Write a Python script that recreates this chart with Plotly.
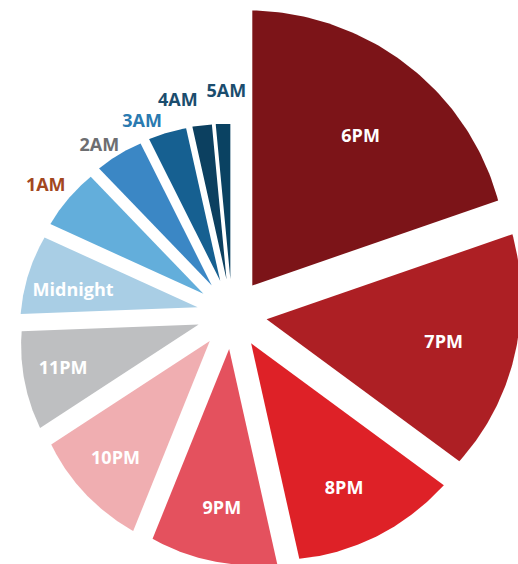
import numpy as np
import plotly.graph_objects as go

# ---------------- data ----------------
hours = ["6PM", "7PM", "8PM", "9PM", "10PM", "11PM", "Midnight",
         "1AM", "2AM", "3AM", "4AM", "5AM"]
shares = [19.7, 15.4, 11.4, 9.6, 9.7, 8.6, 7.4, 6.0, 4.8, 3.9, 2.0, 1.5]

# ---------------- style ----------------
slice_colors = ["#7C1418", "#AD1F24", "#DE2127", "#E4515E", "#F0AEB1", "#BEBFC1",
                "#A9CEE5", "#63AEDB", "#3B87C5", "#166091", "#0C4060", "#0A4262"]
label_inside = [True, True, True, True, True, True, True,
                False, False, False, False, False]
label_colors = ["white"] * 7 + ["#A3471F", "#6D6E71", "#2A7AB0", "#1B4D6E", "#1B4D6E"]
label_nudge_deg = [0, -2, 0, -2, 0, 1, -2, 0, -3, -6, -6, 1.5]
label_dr_px = [2, 3, 5, 0, 0, 0, -10, 0, -7, -5, 4, 7]
LABEL_DY = -4              # small vertical centring correction for text

W, H = 518, 564
CX, CY = 232, 314          # pie centre in window pixels
PULL = 35                  # explode distance (px)
R_START, R_END = 275, 155  # spiral outer radius at start / end of the sweep


def radius(theta_deg):
    t = np.asarray(theta_deg) / 360.0
    g = 0.7 * 0.5 * (1 + np.cos(np.pi * t)) + 0.3 * (1 - t)
    return R_END + (R_START - R_END) * g


total = sum(shares)
fig = go.Figure()

cum = 0.0
lab_x, lab_y, lab_t, lab_c = [], [], [], []
for name, v, col, inside, lc, nudge, dr in zip(hours, shares, slice_colors, label_inside,
                                               label_colors, label_nudge_deg, label_dr_px):
    a0 = cum / total * 360
    cum += v
    a1 = cum / total * 360
    mid = (a0 + a1) / 2
    tx = PULL * np.sin(np.radians(mid))
    ty = PULL * np.cos(np.radians(mid))
    th = np.linspace(a0, a1, 80)
    r = radius(th)
    xs = np.concatenate([[tx], tx + r * np.sin(np.radians(th)), [tx]])
    ys = np.concatenate([[ty], ty + r * np.cos(np.radians(th)), [ty]])
    fig.add_trace(go.Scatter(x=xs, y=ys, mode="lines", fill="toself",
                             fillcolor=col, line=dict(width=0, color=col),
                             hoverinfo="text", text=f"{name}: {v}%", showlegend=False))
    rm = float(radius(mid))
    la = np.radians(mid + nudge)
    d = (0.5 * rm + 50 if inside else rm + 28) + dr
    lab_x.append(tx + d * np.sin(la))
    lab_y.append(ty + d * np.cos(la) + LABEL_DY)
    lab_t.append(name)
    lab_c.append(lc)

fig.add_trace(go.Scatter(x=lab_x, y=lab_y, mode="text", text=lab_t,
                         textfont=dict(family="Open Sans", size=18, color=lab_c, weight=700),
                         hoverinfo="skip", showlegend=False))

fig.update_layout(
    width=W, height=H,
    margin=dict(l=0, r=0, t=0, b=0),
    paper_bgcolor="white", plot_bgcolor="white",
    xaxis=dict(range=[-CX, W - CX], visible=False, fixedrange=True),
    yaxis=dict(range=[CY - H, CY], visible=False, fixedrange=True),
)
fig.write_html("out.html",
               config={"displayModeBar": False},
               post_script="document.body.style.margin='0px';document.body.style.overflow='hidden';")
